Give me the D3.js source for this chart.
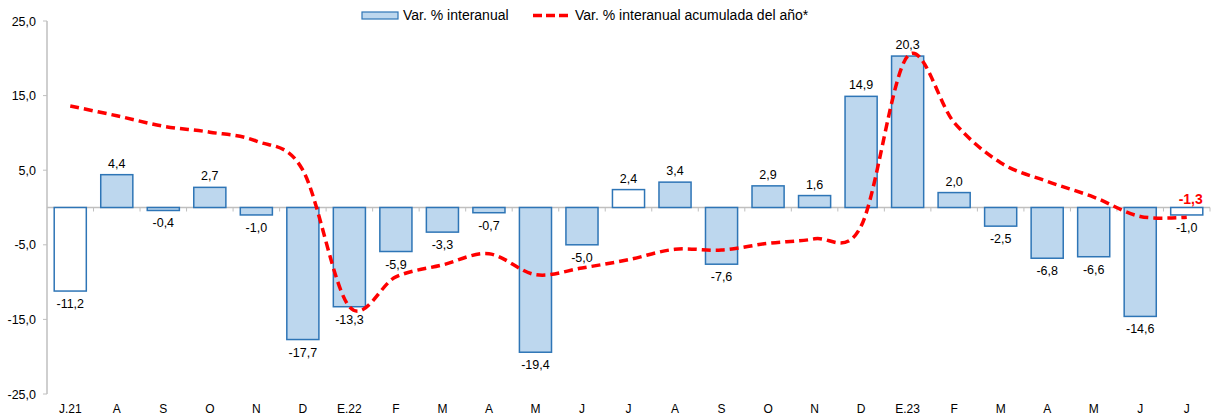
<!DOCTYPE html>
<html>
<head>
<meta charset="utf-8">
<script src="https://cdn.jsdelivr.net/npm/d3@7"></script>
<style>
  body { margin: 0; background: #fff; }
  text { font-family: "Liberation Sans", Arial, sans-serif; fill: #000; }
</style>
</head>
<body>
<div id="chart"></div>
<script>
var months = ["J.21","A","S","O","N","D","E.22","F","M","A","M","J","J","A","S","O","N","D","E.23","F","M","A","M","J","J"];
var interanual = [-11.2,4.4,-0.4,2.7,-1.0,-17.7,-13.3,-5.9,-3.3,-0.7,-19.4,-5.0,2.4,3.4,-7.6,2.9,1.6,14.9,20.3,2.0,-2.5,-6.8,-6.6,-14.6,-1.0];
var acumulada = [13.6,12.3,10.9,10.1,8.9,5.0,-13.3,-9.3,-7.7,-6.2,-9.0,-8.1,-7.0,-5.6,-5.7,-4.8,-4.2,-2.5,20.3,11.4,6.0,3.5,1.4,-1.2,-1.3];
var whiteBars = [0, 12, 24];
var yTicks = [25, 15, 5, -5, -15, -25];
var legendLabels = ["Var. % interanual", "Var. % interanual acumulada del año*"];

var W = 1213, H = 418;
var fmt = function(v) { return d3.format(".1f")(v).replace(".", ",").replace("\u2212", "-"); };

var svg = d3.select("#chart").append("svg")
  .attr("width", W).attr("height", H);

var x = d3.scaleBand()
  .domain(d3.range(months.length))
  .range([47, 1210])
  .paddingInner(0.31)
  .paddingOuter(0.155);

var y = d3.scaleLinear()
  .domain([-25, 25])
  .range([394, 21]);

var step = x.step();

// y axis
svg.append("line")
  .attr("x1", 47).attr("x2", 47)
  .attr("y1", y(25)).attr("y2", y(-25))
  .attr("stroke", "#bfbfbf").attr("stroke-width", 1.5);

svg.selectAll(".ytick").data(yTicks).enter().append("line")
  .attr("x1", 43).attr("x2", 47)
  .attr("y1", function(d) { return y(d); })
  .attr("y2", function(d) { return y(d); })
  .attr("stroke", "#bfbfbf").attr("stroke-width", 1);

svg.selectAll(".ylab").data(yTicks).enter().append("text")
  .attr("x", 36)
  .attr("y", function(d) { return y(d) + 4.5; })
  .attr("text-anchor", "end")
  .attr("font-size", "12.5px")
  .text(function(d) { return fmt(d); });

// zero line
svg.append("line")
  .attr("x1", 47).attr("x2", 1210)
  .attr("y1", y(0)).attr("y2", y(0))
  .attr("stroke", "#bfbfbf").attr("stroke-width", 1.5);

svg.selectAll(".xtick").data(d3.range(1, months.length + 1)).enter().append("line")
  .attr("x1", function(i) { return x(i - 1) + x.bandwidth() + step * 0.155; })
  .attr("x2", function(i) { return x(i - 1) + x.bandwidth() + step * 0.155; })
  .attr("y1", y(0)).attr("y2", y(0) + 4)
  .attr("stroke", "#bfbfbf").attr("stroke-width", 1);

// bars
svg.selectAll(".bar").data(interanual).enter().append("rect")
  .attr("x", function(d, i) { return x(i); })
  .attr("y", function(d) { return y(Math.max(0, d)); })
  .attr("width", x.bandwidth())
  .attr("height", function(d) { return Math.abs(y(d) - y(0)); })
  .attr("fill", function(d, i) { return whiteBars.indexOf(i) >= 0 ? "#ffffff" : "#bdd7ee"; })
  .attr("stroke", "#2e75b6")
  .attr("stroke-width", 1.5);

// bar labels
svg.selectAll(".blab").data(interanual).enter().append("text")
  .attr("x", function(d, i) { return x(i) + x.bandwidth() / 2; })
  .attr("y", function(d) { return d >= 0 ? y(d) - 7 : y(d) + 17; })
  .attr("text-anchor", "middle")
  .attr("font-size", "12.5px")
  .text(function(d) { return fmt(d); });

// cumulative line (smoothed like the spreadsheet)
var line = d3.line()
  .x(function(d, i) { return x(i) + x.bandwidth() / 2; })
  .y(function(d) { return y(d); })
  .curve(d3.curveCardinal.tension(0));

svg.append("path")
  .datum(acumulada)
  .attr("fill", "none")
  .attr("stroke", "#ff0000")
  .attr("stroke-width", 3.5)
  .attr("stroke-dasharray", "9,5")
  .attr("d", line);

// last value of the cumulative line
var last = acumulada.length - 1;
svg.append("text")
  .attr("x", x(last) + x.bandwidth() / 2 + 4)
  .attr("y", y(0) - 4)
  .attr("text-anchor", "middle")
  .attr("font-size", "14px")
  .attr("font-weight", "bold")
  .style("fill", "#ff0000")
  .text(fmt(acumulada[last]));

// month labels
svg.selectAll(".xlab").data(months).enter().append("text")
  .attr("x", function(d, i) { return x(i) + x.bandwidth() / 2; })
  .attr("y", 413)
  .attr("text-anchor", "middle")
  .attr("font-size", "12px")
  .text(function(d) { return d; });

// legend
var lg = svg.append("g");
lg.append("rect")
  .attr("x", 362).attr("y", 12)
  .attr("width", 36).attr("height", 7)
  .attr("fill", "#bdd7ee").attr("stroke", "#2e75b6").attr("stroke-width", 1.2);
lg.append("text")
  .attr("x", 403).attr("y", 20)
  .attr("font-size", "14px")
  .text(legendLabels[0]);
lg.append("line")
  .attr("x1", 533).attr("x2", 569)
  .attr("y1", 15.5).attr("y2", 15.5)
  .attr("stroke", "#ff0000").attr("stroke-width", 3.5)
  .attr("stroke-dasharray", "9,4");
lg.append("text")
  .attr("x", 575).attr("y", 20)
  .attr("font-size", "14px")
  .text(legendLabels[1]);
</script>
</body>
</html>
